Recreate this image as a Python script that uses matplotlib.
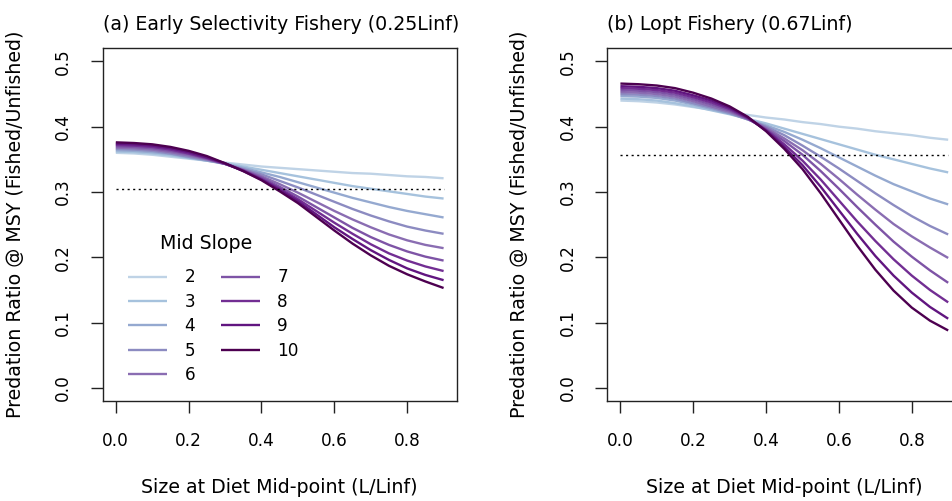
import numpy as np
import matplotlib
matplotlib.use('Agg')
import matplotlib.pyplot as plt

# diet mid-point sizes (L/Linf)
x_vals = [0.00, 0.05, 0.10, 0.15, 0.20, 0.25, 0.30, 0.35, 0.40, 0.45,
          0.50, 0.55, 0.60, 0.65, 0.70, 0.75, 0.80, 0.85, 0.90]
mid_slopes = [2, 3, 4, 5, 6, 7, 8, 9, 10]

# (a) early selectivity fishery, one list per mid slope
early_2  = [.360, .359, .357, .354, .351, .348, .345, .342, .339, .337, .335, .333, .331, .329, .328, .326, .324, .323, .321]
early_3  = [.362, .361, .359, .356, .352, .348, .344, .339, .334, .329, .324, .319, .314, .309, .305, .301, .297, .293, .290]
early_4  = [.364, .363, .361, .358, .353, .348, .343, .337, .330, .323, .315, .307, .299, .291, .284, .277, .271, .266, .261]
early_5  = [.366, .365, .363, .359, .354, .349, .343, .335, .327, .317, .307, .296, .285, .274, .264, .255, .247, .241, .236]
early_6  = [.368, .367, .365, .361, .356, .350, .343, .334, .324, .312, .299, .285, .271, .258, .246, .235, .226, .219, .214]
early_7  = [.370, .369, .367, .363, .358, .351, .343, .333, .322, .308, .293, .277, .261, .245, .231, .219, .209, .201, .195]
early_8  = [.372, .371, .369, .365, .359, .352, .343, .333, .320, .305, .289, .271, .253, .236, .220, .206, .195, .186, .179]
early_9  = [.374, .373, .371, .367, .361, .353, .344, .332, .319, .303, .286, .266, .246, .228, .211, .196, .183, .173, .165]
early_10 = [.376, .375, .373, .369, .363, .355, .344, .332, .318, .301, .283, .262, .241, .221, .203, .187, .174, .163, .153]

# (b) Lopt fishery
lopt_2  = [.440, .439, .437, .434, .430, .426, .422, .418, .414, .411, .407, .404, .400, .397, .393, .390, .387, .383, .380]
lopt_3  = [.443, .442, .440, .436, .431, .425, .419, .412, .405, .397, .389, .381, .373, .365, .357, .350, .343, .336, .330]
lopt_4  = [.447, .446, .444, .440, .434, .427, .420, .411, .402, .392, .380, .367, .353, .339, .325, .312, .301, .290, .281]
lopt_5  = [.450, .449, .447, .443, .436, .429, .421, .411, .400, .387, .371, .354, .336, .317, .298, .280, .263, .248, .235]
lopt_6  = [.453, .452, .450, .446, .439, .431, .423, .412, .398, .382, .364, .343, .320, .296, .273, .251, .232, .215, .199]
lopt_7  = [.456, .455, .453, .449, .442, .434, .425, .412, .396, .378, .357, .332, .305, .277, .250, .224, .201, .180, .161]
lopt_8  = [.459, .458, .456, .452, .445, .437, .427, .413, .395, .373, .348, .319, .287, .255, .225, .197, .172, .150, .131]
lopt_9  = [.462, .461, .459, .455, .448, .440, .429, .414, .394, .369, .341, .308, .272, .236, .202, .172, .146, .124, .106]
lopt_10 = [.466, .465, .463, .459, .452, .443, .431, .415, .393, .366, .335, .298, .258, .218, .181, .149, .123, .103, .088]

ref_a = 0.304
ref_b = 0.356

early_all = [early_2, early_3, early_4, early_5, early_6, early_7, early_8, early_9, early_10]
lopt_all  = [lopt_2, lopt_3, lopt_4, lopt_5, lopt_6, lopt_7, lopt_8, lopt_9, lopt_10]

list_color = ['#BFD3E6', '#A6C2DD', '#95A9D0', '#8C8BC1', '#8A6DB2',
              '#7E54A6', '#722E93', '#611580', '#4D0050']

plt.rcParams['font.family'] = 'DejaVu Sans'
fs_tick = 12.2
fs_lab = 13.7

fig = plt.figure(figsize=(9.53, 5.01), dpi=100)
W, H = 953., 501.
ax1 = fig.add_axes([102.7/W, 1-401/H, 354/W, (401-48.3)/H])
ax2 = fig.add_axes([607.3/W, 1-401/H, 354/W, (401-48.3)/H])

titles = ['(a) Early Selectivity Fishery (0.25Linf)', '(b) Lopt Fishery (0.67Linf)']
for ax, data, ref, ttl in zip([ax1, ax2], [early_all, lopt_all], [ref_a, ref_b], titles):
    for k, yv in enumerate(data):
        ax.plot(x_vals, yv, color=list_color[k], lw=1.7, label=str(mid_slopes[k]),
                solid_capstyle='butt')
    ax.plot([x_vals[0], x_vals[-1]], [ref, ref], color='black', lw=1.0,
            linestyle=(0, (1.5, 2.5)))
    ax.set_xlim(-0.036, 0.936)
    ax.set_ylim(-0.02, 0.52)
    ax.set_xticks([0, 0.2, 0.4, 0.6, 0.8])
    ax.set_xticklabels(['0.0', '0.2', '0.4', '0.6', '0.8'])
    ax.set_yticks([0, 0.1, 0.2, 0.3, 0.4, 0.5])
    ax.set_yticklabels(['0.0', '0.1', '0.2', '0.3', '0.4', '0.5'], rotation=90, va='center')
    ax.tick_params(direction='out', length=8.6, width=1.0, labelsize=fs_tick, color='#222222')
    ax.tick_params(axis='x', pad=14)
    ax.tick_params(axis='y', pad=13.5)
    for sp in ax.spines.values():
        sp.set_linewidth(1.0)
        sp.set_color('#222222')
    ax.set_title(ttl, loc='left', fontsize=fs_lab, pad=13)
    ax.set_xlabel('Size at Diet Mid-point (L/Linf)', fontsize=fs_lab, labelpad=20)
    ax.set_ylabel('Predation Ratio @ MSY (Fished/Unfished)', fontsize=fs_lab, labelpad=21)

# legend title drawn separately so its gap to the entries can be set
ax1.text((206 - 102.7)/354, (401 - 243)/(401 - 48.3), 'Mid Slope', transform=ax1.transAxes,
         ha='center', va='center', fontsize=fs_lab)
leg = ax1.legend(ncol=2, frameon=False, fontsize=fs_tick,
                 loc='upper left', bbox_to_anchor=((120 - 102.7)/354, (401 - 260)/(401 - 48.3)),
                 borderpad=0, handlelength=2.3, handletextpad=1.0, labelspacing=0.38,
                 columnspacing=1.55)

fig.savefig('out.png', dpi=100)
